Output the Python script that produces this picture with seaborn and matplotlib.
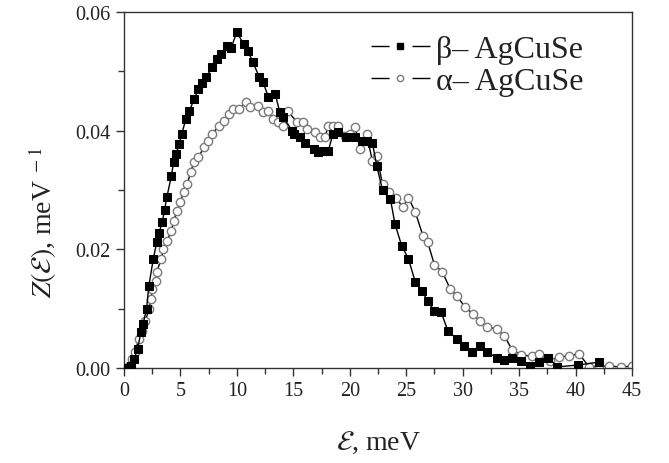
import numpy as np
import pandas as pd
import matplotlib
matplotlib.use("Agg")
import matplotlib.pyplot as plt
import seaborn as sns
from matplotlib.ticker import MultipleLocator, FormatStrFormatter
from matplotlib.lines import Line2D

# beta-AgCuSe (filled squares)
beta_e = [0.3, 0.6, 0.9, 1.2, 1.5, 1.7, 2.0, 2.2, 2.6, 2.9, 3.1, 3.4, 3.6, 3.8, 4.2, 4.4,
          4.6, 4.9, 5.1, 5.5, 5.8, 6.2, 6.6, 6.9, 7.3, 7.8, 8.2, 8.6, 9.1, 9.5, 10.0,
          10.6, 11.0, 11.4, 12.0, 12.3, 12.8, 13.4, 13.8, 14.1, 14.9, 15.1, 15.6, 16.0,
          16.8, 17.2, 17.6, 18.1, 18.5, 19.0, 19.7, 20.5, 21.1, 21.5, 22.0, 22.4, 22.9,
          23.6, 24.0, 24.6, 25.2, 25.8, 26.4, 26.9, 27.5, 28.1, 28.7, 29.5, 30.1, 30.8,
          31.5, 32.2, 33.0, 33.7, 34.4, 35.2, 36.0, 36.8, 37.6, 38.4, 40.2, 42.1]
beta_z = [0.0000, 0.0004, 0.0015, 0.0032, 0.0060, 0.0075, 0.0099, 0.0138, 0.0184, 0.0212,
          0.0228, 0.0246, 0.0267, 0.0288, 0.0324, 0.0347, 0.0360, 0.0378, 0.0394, 0.0420,
          0.0433, 0.0453, 0.0470, 0.0480, 0.0490, 0.0507, 0.0520, 0.0529, 0.0543, 0.0540,
          0.0566, 0.0546, 0.0534, 0.0516, 0.0490, 0.0482, 0.0457, 0.0462, 0.0431, 0.0423,
          0.0400, 0.0394, 0.0389, 0.0380, 0.0369, 0.0364, 0.0366, 0.0366, 0.0394, 0.0398,
          0.0389, 0.0389, 0.0383, 0.0383, 0.0380, 0.0340, 0.0300, 0.0285, 0.0243, 0.0206,
          0.0184, 0.0145, 0.0130, 0.0113, 0.0096, 0.0094, 0.0062, 0.0049, 0.0037, 0.0027,
          0.0037, 0.0027, 0.0017, 0.0013, 0.0017, 0.0012, 0.0003, 0.0010, 0.0017, 0.0002,
          0.0005, 0.0010]

# alpha-AgCuSe (open circles)
alpha_e = [0.45, 0.7, 1.0, 1.3, 1.6, 1.9, 2.2, 2.4, 2.5, 2.8, 2.9, 3.3, 3.5, 3.8, 4.2, 4.4,
           4.7, 5.0, 5.3, 5.6, 5.9, 6.2, 6.6, 7.1, 7.4, 7.8, 8.4, 8.9, 9.3, 9.7, 10.2, 10.8,
           11.2, 11.9, 12.3, 12.8, 13.2, 13.6, 14.1, 14.5, 15.3, 15.9, 16.2, 16.9, 17.4,
           17.8, 18.1, 18.5, 19.0, 19.6, 20.0, 20.5, 20.9, 21.5, 22.0, 22.4, 22.9, 23.5,
           24.1, 24.7, 25.2, 25.8, 26.5, 26.9, 27.5, 28.2, 28.9, 29.5, 30.2, 30.9, 31.5,
           32.2, 33.0, 33.7, 34.4, 35.2, 36.1, 36.8, 37.7, 38.5, 39.4, 40.3, 41.2, 42.1,
           43.0, 44.0, 45.0]
alpha_z = [0.0003, 0.0015, 0.0027, 0.0049, 0.0062, 0.0079, 0.0099, 0.0116, 0.0133, 0.0147,
           0.0162, 0.0184, 0.0200, 0.0214, 0.0231, 0.0248, 0.0265, 0.0280, 0.0297, 0.0310,
           0.0330, 0.0347, 0.0356, 0.0372, 0.0383, 0.0394, 0.0408, 0.0416, 0.0428, 0.0437,
           0.0437, 0.0448, 0.0440, 0.0441, 0.0431, 0.0433, 0.0420, 0.0415, 0.0408, 0.0433,
           0.0415, 0.0415, 0.0403, 0.0398, 0.0389, 0.0389, 0.0408, 0.0408, 0.0408, 0.0391,
           0.0394, 0.0406, 0.0369, 0.0394, 0.0349, 0.0357, 0.0310, 0.0297, 0.0287, 0.0271,
           0.0287, 0.0263, 0.0222, 0.0212, 0.0174, 0.0162, 0.0133, 0.0121, 0.0103, 0.0091,
           0.0079, 0.0069, 0.0066, 0.0054, 0.0030, 0.0022, 0.0020, 0.0024, 0.0012, 0.0019,
           0.0020, 0.0024, 0.0002, 0.0003, 0.0003, 0.0002, 0.0003]

labels = ["\u03b2\u2013 AgCuSe", "\u03b1\u2013 AgCuSe"]

df_beta = pd.DataFrame({"E": beta_e, "Z": beta_z})
df_alpha = pd.DataFrame({"E": alpha_e, "Z": alpha_z})

sns.set_style("ticks")
plt.rcParams["font.family"] = ["Liberation Serif", "DejaVu Serif"]
plt.rcParams["mathtext.fontset"] = "stix"

fig = plt.figure(figsize=(6.69, 4.64), dpi=100)
ax = fig.add_axes([0.1853, 0.2047, 0.7594, 0.7673])

sns.lineplot(data=df_alpha, x="E", y="Z", ax=ax, sort=False, color="black", lw=1.0,
             marker="o", markersize=6, markerfacecolor="white", markeredgecolor="#7a7a7a",
             markeredgewidth=1.0, zorder=2)
sns.lineplot(data=df_beta, x="E", y="Z", ax=ax, sort=False, color="black", lw=1.0,
             marker="s", markersize=5.5, markerfacecolor="black", markeredgecolor="black",
             zorder=3)

ax.set_xlim(0, 45)
ax.set_ylim(0, 0.06)
ax.xaxis.set_major_locator(MultipleLocator(5))
ax.xaxis.set_minor_locator(MultipleLocator(2.5))
ax.yaxis.set_major_locator(MultipleLocator(0.02))
ax.yaxis.set_minor_locator(MultipleLocator(0.01))
ax.yaxis.set_major_formatter(FormatStrFormatter("%.2f"))
ax.tick_params(which="major", length=6, width=1, labelsize=14.5, direction="out",
               colors="#333333", labelcolor="#222222")
ax.tick_params(which="minor", length=4, width=1, direction="out", colors="#333333")
for s in ax.spines.values():
    s.set_linewidth(1.0)
    s.set_color("#333333")

ax.set_xlabel(r"$\mathcal{E}$, meV", fontsize=20, color="#222222")
ax.set_ylabel(r"$Z(\mathcal{E})$, meV$^{\ -1}$", fontsize=20, color="#222222")
ax.xaxis.set_label_coords(0.5, -0.172)
ax.yaxis.set_label_coords(-0.128, 0.41)

# legend handles: dash - marker - dash
dash = (0, (13, 16.5))
handles = [
    Line2D([], [], color="black", lw=1.0, ls=dash, marker="s", markersize=4,
           markerfacecolor="black", markeredgecolor="black"),
    Line2D([], [], color="black", lw=1.0, ls=dash, marker="o", markersize=4.5,
           markerfacecolor="white", markeredgecolor="#7a7a7a"),
]
ax.legend(handles, labels, loc="upper right", bbox_to_anchor=(0.905, 0.937),
          frameon=False, fontsize=23, handlelength=1.85, handletextpad=0.2,
          labelspacing=0.08, borderpad=0, borderaxespad=0, labelcolor="#222222")

fig.savefig("out.png", dpi=100)
